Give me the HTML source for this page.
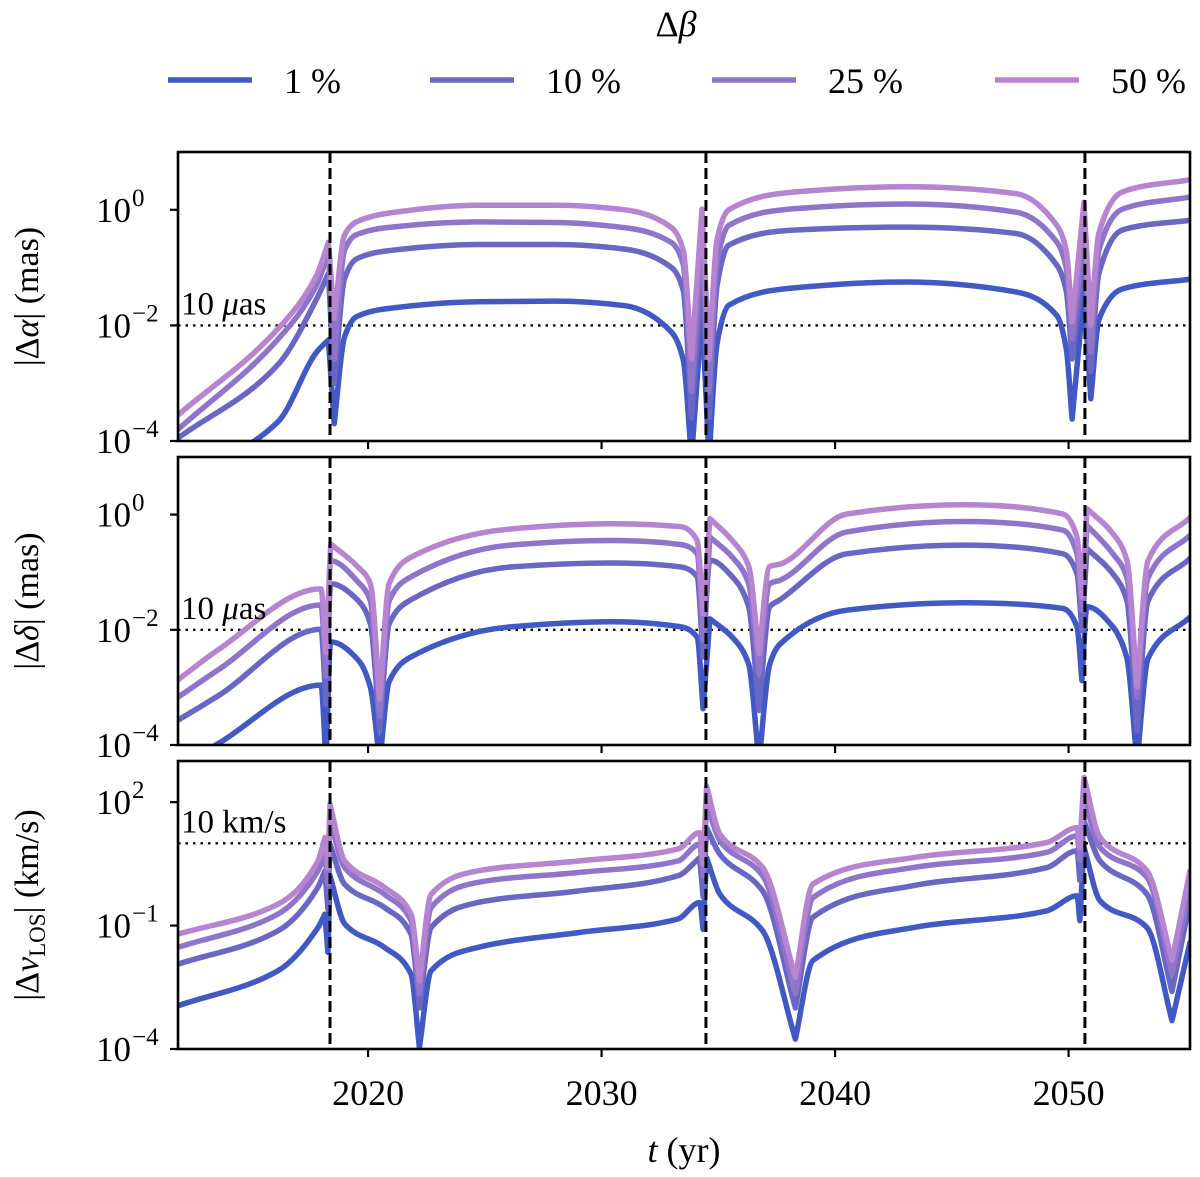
<!DOCTYPE html>
<html><head><meta charset="utf-8"><style>
html,body{margin:0;padding:0;background:#fff;width:1200px;height:1177px;overflow:hidden}
svg text{font-family:"Liberation Serif",serif;fill:#000}
</style></head><body>
<svg id="chart" width="1200" height="1177" viewBox="0 0 1200 1177" xmlns="http://www.w3.org/2000/svg">
<g id="legend">
<text x="676" y="36" font-size="36" text-anchor="middle">Δ<tspan font-style="italic">β</tspan></text>
</g>
<g id="panels"></g>
<text x="684" y="1162" font-size="36" text-anchor="middle"><tspan font-style="italic">t</tspan> (yr)</text>
</svg>
<script>
const seriesLabels = ["1 %", "10 %", "25 %", "50 %"];
const seriesColors = ["#4159c4", "#6a66c4", "#8f74cb", "#b784d2"];
const xTicks = [2020, 2030, 2040, 2050];
const eventYears = [2018.37, 2034.47, 2050.7];

const p1Years = [2011.86,2016.14,2017.8,2018.3,2018.55,2018.99,2019.5,2021,2024.7,2028,2031.0,2033.0,2033.5,2033.85,2034.3,2034.6,2034.95,2035.45,2038.3,2043,2047.75,2049.5,2049.9,2050.15,2050.66,2050.95,2051.3,2052.3,2055.2];
const p1S1 = [-4.7,-3.67,-2.46,-2.25,-3.7,-2.2,-1.85,-1.7,-1.59,-1.58,-1.66,-2.12,-2.6,-4.3,-1.77,-4.3,-2.3,-1.65,-1.35,-1.25,-1.42,-1.83,-2.4,-3.62,-1.43,-3.27,-1.9,-1.37,-1.2];
const p1S10 = [-3.95,-2.68,-1.54,-1.1,-3.0,-1.19,-0.85,-0.7,-0.6,-0.6,-0.68,-1.0,-1.4,-3.6,-1.13,-3.6,-1.3,-0.61,-0.35,-0.3,-0.41,-0.96,-1.4,-2.58,-0.85,-2.8,-1.1,-0.35,-0.18];
const p1S25 = [-3.8,-2.24,-1.3,-0.75,-2.58,-0.7,-0.43,-0.3,-0.21,-0.22,-0.31,-0.57,-0.95,-3.15,-0.5,-3.15,-0.9,-0.27,0.02,0.1,-0.04,-0.56,-1.0,-2.23,-0.5,-2.46,-0.7,0.01,0.22];
const p1S50 = [-3.55,-2.06,-1.13,-0.56,-1.88,-0.44,-0.21,-0.05,0.08,0.08,0.0,-0.31,-0.7,-2.58,0.01,-2.58,-0.5,0.0,0.31,0.4,0.28,-0.27,-0.7,-1.94,0.13,-2.0,-0.4,0.31,0.52];

const p2Years = [2011.86,2013.57,2017.98,2018.2,2018.4,2019.57,2020.1,2020.5,2020.9,2021.84,2026.1,2030.4,2033.4,2034.09,2034.35,2034.64,2035.6,2036.3,2036.74,2037.2,2037.64,2040.5,2045.48,2049.76,2050.36,2050.57,2050.79,2051.9,2052.5,2052.93,2053.4,2055.2];
const p2S1 = [-4.4,-3.98,-2.96,-4.3,-2.21,-2.52,-3.0,-4.3,-2.9,-2.47,-1.95,-1.86,-1.95,-2.13,-3.37,-1.81,-2.13,-2.6,-4.3,-2.6,-2.25,-1.66,-1.53,-1.63,-1.95,-2.88,-1.6,-1.95,-2.5,-4.3,-2.5,-1.78];
const p2S10 = [-3.57,-3.15,-1.99,-3.3,-1.2,-1.49,-1.9,-3.75,-1.9,-1.48,-0.91,-0.84,-0.91,-1.08,-2.47,-0.79,-1.08,-1.6,-3.4,-1.6,-1.48,-0.68,-0.53,-0.68,-1.03,-2.01,-0.59,-1.03,-1.5,-3.75,-1.5,-0.76];
const p2S25 = [-3.17,-2.7,-1.57,-2.8,-0.8,-1.17,-1.5,-3.5,-1.5,-1.08,-0.53,-0.45,-0.52,-0.68,-2.18,-0.39,-0.74,-1.2,-2.76,-1.2,-1.14,-0.3,-0.12,-0.27,-0.68,-1.66,-0.19,-0.68,-1.1,-3.17,-1.1,-0.36];
const p2S50 = [-2.87,-2.35,-1.29,-2.4,-0.51,-0.91,-1.2,-3.2,-1.2,-0.74,-0.25,-0.16,-0.21,-0.45,-1.72,-0.07,-0.45,-0.9,-2.41,-0.9,-0.86,0.01,0.17,0.01,-0.39,-1.43,0.1,-0.33,-0.8,-2.99,-0.8,-0.05];

const p3Years = [2011.86,2016.14,2017.85,2018.15,2018.28,2018.37,2019.0,2020.7,2021.84,2022.2,2022.7,2024.7,2029.0,2033.27,2034.2,2034.35,2034.5,2035.07,2036.9,2038.3,2039.05,2043.34,2049.07,2050.36,2050.48,2050.66,2051.35,2053.36,2054.43,2055.2];
const p3S1 = [-2.95,-2.1,-1.05,-0.72,-1.65,0.21,-0.96,-1.53,-2.18,-3.96,-2.1,-1.53,-1.17,-0.84,-0.44,-1.09,0.65,-0.24,-1.13,-3.76,-1.85,-1.05,-0.64,-0.28,-0.88,0.9,-0.4,-1.05,-3.31,-1.41];
const p3S10 = [-1.94,-1.13,-0.07,0.33,-0.6,0.98,0.0,-0.56,-1.21,-3.0,-1.05,-0.44,-0.16,0.21,0.65,-0.3,1.38,0.73,-0.16,-3.0,-0.8,-0.03,0.41,0.82,0.1,1.54,0.57,-0.24,-2.6,-0.4];
const p3S25 = [-1.53,-0.72,0.33,0.73,0.0,1.58,0.41,-0.24,-0.88,-2.66,-0.56,0.05,0.29,0.57,0.98,0.2,1.95,1.06,0.21,-2.66,-0.32,0.41,0.78,1.18,0.6,2.11,0.9,0.17,-2.18,-0.11];
const p3S50 = [-1.21,-0.48,0.57,1.14,0.4,1.95,0.57,-0.07,-0.72,-2.34,-0.24,0.33,0.57,0.86,1.26,0.5,2.39,1.22,0.41,-2.26,0.01,0.65,1.02,1.38,0.9,2.6,1.14,0.33,-1.85,0.33];

const p1Ticks = [0, -2, -4];
const p2Ticks = [0, -2, -4];
const p3Ticks = [2, -1, -4];

const NS = "http://www.w3.org/2000/svg";
const X0 = 178, X1 = 1190, YR0 = 2011.86, YR1 = 2055.2;
function xScale(yr){ return X0 + (yr - YR0) / (YR1 - YR0) * (X1 - X0); }
function mk(tag, attrs, parent){ const e = document.createElementNS(NS, tag); for (const k in attrs) e.setAttribute(k, attrs[k]); parent.appendChild(e); return e; }

// monotone cubic path; steep extrema (cusps/spikes) kept as sharp corners
function monoPath(xs, ys){
  const n = xs.length, d = [], mIn = [], mOut = [];
  for (let i = 0; i < n - 1; i++) d.push((ys[i+1]-ys[i])/(xs[i+1]-xs[i]));
  mIn[0] = mOut[0] = d[0]; mIn[n-1] = mOut[n-1] = d[n-2];
  for (let i = 1; i < n - 1; i++){
    if (d[i-1]*d[i] <= 0) {
      if (Math.min(Math.abs(d[i-1]), Math.abs(d[i])) > 0.8) { mIn[i] = d[i-1]; mOut[i] = d[i]; }
      else { mIn[i] = mOut[i] = 0; }
      continue;
    }
    const h0 = xs[i]-xs[i-1], h1 = xs[i+1]-xs[i];
    const w1 = 2*h1 + h0, w2 = h1 + 2*h0;
    mIn[i] = mOut[i] = (w1 + w2) / (w1/d[i-1] + w2/d[i]);
  }
  let s = "M" + xs[0].toFixed(1) + "," + ys[0].toFixed(1);
  for (let i = 0; i < n - 1; i++){
    const h = xs[i+1]-xs[i];
    s += "C" + (xs[i]+h/3).toFixed(1) + "," + (ys[i]+mOut[i]*h/3).toFixed(1) + " " +
         (xs[i+1]-h/3).toFixed(1) + "," + (ys[i+1]-mIn[i+1]*h/3).toFixed(1) + " " +
         xs[i+1].toFixed(1) + "," + ys[i+1].toFixed(1);
  }
  return s;
}

const panelsG = document.getElementById("panels");
const legendG = document.getElementById("legend");

const legX = [168, 430, 712, 995];
seriesLabels.forEach((lab, i) => {
  const ln = mk("line", {x1: legX[i], x2: legX[i] + 84, y1: 80, y2: 80, stroke: seriesColors[i], "stroke-width": 5.5}, legendG);
  
  
  const t = mk("text", {x: legX[i] + 116, y: 93, "font-size": 36}, legendG);
  t.textContent = lab;
  
  
});

const panels = [
  {top: 152, bottom: 441, lo: -4, hi: 1, years: p1Years, series: [p1S1, p1S10, p1S25, p1S50], ticks: p1Ticks, thr: -2, thrLabel: "10 μas", name: "alpha"},
  {top: 457, bottom: 745, lo: -4, hi: 1, years: p2Years, series: [p2S1, p2S10, p2S25, p2S50], ticks: p2Ticks, thr: -2, thrLabel: "10 μas", name: "delta"},
  {top: 761, bottom: 1049, lo: -4, hi: 3, years: p3Years, series: [p3S1, p3S10, p3S25, p3S50], ticks: p3Ticks, thr: 1, thrLabel: "10 km/s", name: "vlos"}
];

panels.forEach((p, pi) => {
  const g = mk("g", {}, panelsG);
  
  
  const yScale = v => p.bottom - (v - p.lo) / (p.hi - p.lo) * (p.bottom - p.top);
  const clipId = "clip" + pi;
  const cp = mk("clipPath", {id: clipId}, g);
  mk("rect", {x: X0, y: p.top, width: X1 - X0, height: p.bottom - p.top}, cp);
  const th = mk("line", {x1: X0, x2: X1, y1: yScale(p.thr), y2: yScale(p.thr), stroke: "#000", "stroke-width": 2.4, "stroke-dasharray": "2.5 5"}, g);
  
  
  const sg = mk("g", {"clip-path": "url(#" + clipId + ")"}, g);
  p.series.forEach((vals, si) => {
    const xs = p.years.map(xScale), ys = vals.map(yScale);
    const path = mk("path", {d: monoPath(xs, ys), fill: "none", stroke: seriesColors[si], "stroke-width": 5.5, "stroke-linejoin": "round", "stroke-linecap": "round"}, sg);
    
    
  });
  eventYears.forEach(ey => {
    const el = mk("line", {x1: xScale(ey), x2: xScale(ey), y1: p.top, y2: p.bottom, stroke: "#000", "stroke-width": 3, "stroke-dasharray": "11 5"}, g);
    
    
  });
  const tl = mk("text", {x: 181, y: yScale(p.thr) - 11, "font-size": 33}, g);
  if (p.thrLabel === "10 μas") { tl.innerHTML = '10 <tspan font-style="italic">μ</tspan>as'; } else { tl.textContent = p.thrLabel; }
  
  
  const fr = mk("rect", {x: X0, y: p.top, width: X1 - X0, height: p.bottom - p.top, fill: "none", stroke: "#000", "stroke-width": 2.6}, g);
  
  
  p.ticks.forEach(tv => {
    const y = yScale(tv);
    const tk = mk("line", {x1: X0 - 8, x2: X0, y1: y, y2: y, stroke: "#000", "stroke-width": 2.2}, g);
    
    
    const t = mk("text", {x: 131, y: y + 12, "font-size": 35, "text-anchor": "end"}, g);
    t.textContent = "10";
    
    
    const sup = mk("text", {x: 132, y: y - 4, "font-size": 25}, g);
    sup.textContent = (tv < 0 ? "−" + (-tv) : String(tv));
    
    
  });
  xTicks.forEach(xv => {
    const x = xScale(xv);
    const tk = mk("line", {x1: x, x2: x, y1: p.bottom, y2: p.bottom + 8, stroke: "#000", "stroke-width": 2.2}, g);
    
    
    if (pi === 2) {
      const t = mk("text", {x: x, y: 1105, "font-size": 36, "text-anchor": "middle"}, g);
      t.textContent = String(xv);
      
      
    }
  });
  const cy = (p.top + p.bottom) / 2;
  const yl = mk("text", {x: 0, y: 0, "font-size": 34, "text-anchor": "middle", transform: "translate(38," + cy + ") rotate(-90)"}, g);
  if (p.name === "alpha") yl.innerHTML = '|Δ<tspan font-style="italic">α</tspan>| (mas)';
  else if (p.name === "delta") yl.innerHTML = '|Δ<tspan font-style="italic">δ</tspan>| (mas)';
  else yl.innerHTML = '|Δ<tspan font-style="italic">v</tspan><tspan font-size="23" dy="7">LOS</tspan><tspan dy="-7">| (km/s)</tspan>';
  
  
});
</script>
</body></html>
